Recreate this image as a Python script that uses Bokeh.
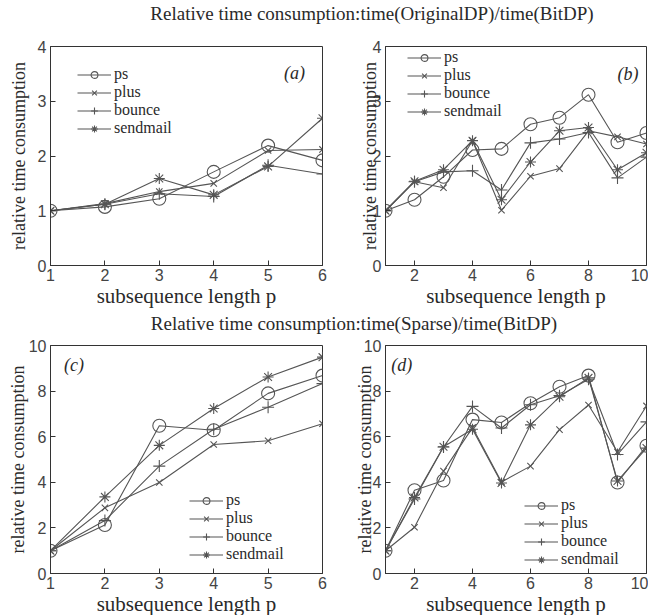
from bokeh.plotting import figure
from bokeh.models import Range1d, FixedTicker, Div, Label
from bokeh.layouts import column, row
from bokeh.embed import file_html
from bokeh.resources import INLINE

# ---------------- data ----------------
series = ["ps", "plus", "bounce", "sendmail"]
markers = ["circle", "x", "cross", "asterisk"]
marker_sizes = [13, 9, 12, 11]

p_short = [1, 2, 3, 4, 5, 6]
p_long = [1, 2, 3, 4, 5, 6, 7, 8, 9, 10]

a_ps = [1.0, 1.07, 1.22, 1.71, 2.19, 1.92]
a_plus = [1.0, 1.13, 1.35, 1.50, 2.10, 2.12]
a_bounce = [1.0, 1.12, 1.31, 1.26, 1.83, 1.67]
a_sendmail = [1.0, 1.12, 1.59, 1.29, 1.81, 2.69]

b_ps = [1.0, 1.20, 1.62, 2.11, 2.13, 2.58, 2.70, 3.12, 2.25, 2.42]
b_plus = [1.0, 1.53, 1.42, 2.28, 1.01, 1.63, 1.77, 2.46, 2.35, 2.22]
b_bounce = [1.0, 1.53, 1.71, 1.73, 1.38, 2.24, 2.31, 2.43, 1.60, 1.98]
b_sendmail = [1.0, 1.54, 1.75, 2.28, 1.20, 1.89, 2.46, 2.52, 1.75, 2.06]

c_ps = [1.0, 2.13, 6.48, 6.28, 7.90, 8.68]
c_plus = [1.0, 2.88, 3.99, 5.66, 5.82, 6.57]
c_bounce = [1.0, 2.32, 4.71, 6.33, 7.29, 8.33]
c_sendmail = [1.0, 3.36, 5.62, 7.24, 8.62, 9.49]

d_ps = [1.0, 3.65, 4.08, 6.75, 6.62, 7.47, 8.19, 8.68, 3.99, 5.60]
d_plus = [1.0, 2.03, 4.49, 6.40, 4.01, 4.71, 6.31, 7.39, 5.33, 7.35]
d_bounce = [1.0, 3.27, 5.55, 7.33, 6.38, 7.40, 7.80, 8.52, 5.22, 6.65]
d_sendmail = [1.0, 3.33, 5.56, 6.33, 3.97, 6.52, 7.75, 8.58, 4.06, 5.50]

title_top = "Relative time consumption:time(OriginalDP)/time(BitDP)"
title_bottom = "Relative time consumption:time(Sparse)/time(BitDP)"
x_label = "subsequence length p"
y_label = "relative time consumption"

# ---------------- style ----------------
SERIF = "Liberation Serif"
SANS = "Liberation Sans"
LINE = "#555555"
TEXT = "#2a2a2a"


def panel(xs, ys_list, xmax, ymax, xticks, yticks, width, height,
          mbl, mbr, mbt, mbb, tag, tag_xy, tag_align, legend_xy, ylab_standoff):
    p = figure(width=width, height=height, output_backend="svg",
               toolbar_location=None,
               x_range=Range1d(1, xmax), y_range=Range1d(0, ymax),
               min_border_left=mbl, min_border_right=mbr,
               min_border_top=mbt, min_border_bottom=mbb)
    p.xgrid.visible = False
    p.ygrid.visible = False
    p.outline_line_color = "#333333"
    p.outline_line_width = 1
    p.background_fill_color = "white"
    p.border_fill_color = "white"

    for ax in (p.xaxis[0], p.yaxis[0]):
        ax.axis_line_color = "#333333"
        ax.major_tick_line_color = "#333333"
        ax.major_tick_in = 5
        ax.major_tick_out = 0
        ax.minor_tick_line_color = None
        ax.major_label_text_font = SANS
        ax.major_label_text_font_size = "16px"
        ax.major_label_text_color = "#444444"
        ax.axis_label_text_font = SERIF
        ax.axis_label_text_font_style = "normal"
        ax.axis_label_text_color = TEXT
    p.xaxis.ticker = FixedTicker(ticks=xticks)
    p.yaxis.ticker = FixedTicker(ticks=yticks)
    p.xaxis.axis_label = x_label
    p.xaxis.axis_label_text_font_size = "21px"
    p.xaxis.major_label_standoff = 3
    p.xaxis.axis_label_standoff = 0
    p.yaxis.axis_label = y_label
    p.yaxis.axis_label_text_font_size = "18px"
    p.yaxis.major_label_standoff = 4
    p.yaxis.axis_label_standoff = ylab_standoff

    for name, ys, mk, ms in zip(series, ys_list, markers, marker_sizes):
        p.line(xs, ys, line_color=LINE, line_width=1.1, legend_label=name)
        p.scatter(xs, ys, marker=mk, size=ms, line_color=LINE,
                  fill_color=None, line_width=1.1, legend_label=name)

    lg = p.legend[0]
    lg.location = legend_xy
    lg.margin = 0
    lg.padding = 0
    lg.spacing = 0
    lg.label_height = 17
    lg.glyph_height = 17
    lg.glyph_width = 34
    lg.label_standoff = 3
    lg.label_text_font = SERIF
    lg.label_text_font_size = "16px"
    lg.label_text_color = TEXT
    lg.border_line_color = None
    lg.background_fill_alpha = 0

    p.add_layout(Label(x=tag_xy[0], y=tag_xy[1], text=tag, text_font=SERIF,
                       text_font_style="italic", text_font_size="18px",
                       text_color=TEXT, text_align=tag_align,
                       text_baseline="middle"))
    return p


# Row 1  (height = top border 18 + frame 219 + bottom border 46)
pa = panel(p_short, [a_ps, a_plus, a_bounce, a_sendmail], 6, 4,
           p_short, [0, 1, 2, 3, 4], 335, 283, 50, 13, 18, 46,
           "(a)", (5.68, 3.52), "right", (27, 128), 6)
pb = panel(p_long, [b_ps, b_plus, b_bounce, b_sendmail], 10, 4,
           [2, 4, 6, 8, 10], [0, 1, 2, 3, 4], 313, 283, 50, 2, 18, 46,
           "(b)", (9.72, 3.50), "right", (22, 145), -10)

# Row 2  (height = top border 8 + frame 228 + bottom border 46)
pc = panel(p_short, [c_ps, c_plus, c_bounce, c_sendmail], 6, 10,
           p_short, [0, 2, 4, 6, 8, 10], 335, 282, 50, 13, 8, 46,
           "(c)", (1.25, 9.15), "left", (139, 10), -2)
pd = panel(p_long, [d_ps, d_plus, d_bounce, d_sendmail], 10, 10,
           [2, 4, 6, 8, 10], [0, 2, 4, 6, 8, 10], 313, 282, 50, 2, 8, 46,
           "(d)", (1.2, 9.15), "left", (139, 5), -14)


def title_div(text, pad_left, h):
    html = ('<div style="box-sizing:border-box;width:648px;padding-left:%dpx;'
            'text-align:center;font-family:\'Liberation Serif\';font-size:19px;'
            'line-height:%dpx;color:%s;white-space:nowrap;">%s</div>'
            % (pad_left, h, TEXT, text))
    return Div(text=html, width=648, height=h)


layout = column(title_div(title_top, 86, 18), row(pa, pb),
                title_div(title_bottom, 50, 16), row(pc, pd))

open("out.html", "w").write(file_html(layout, INLINE))
